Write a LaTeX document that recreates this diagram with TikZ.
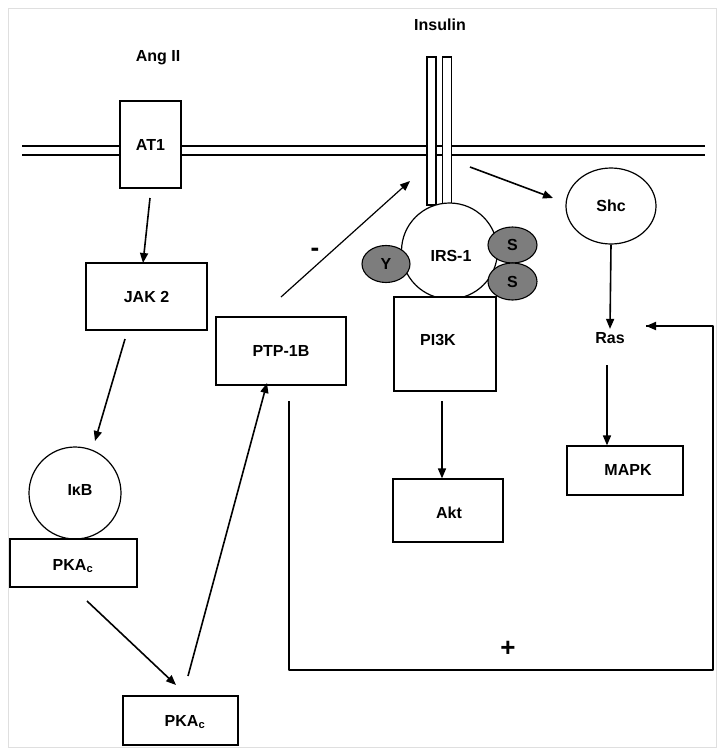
\documentclass[tikz,border=0pt]{standalone}
\usepackage{fontspec}
\setmainfont{Liberation Sans}
\usetikzlibrary{arrows.meta,shapes.geometric}
\begin{document}
\begin{tikzpicture}[x=1pt,y=-1pt,
  lbl/.style={font=\bfseries\fontsize{16}{18}\selectfont},
  box/.style={draw,line width=1.2pt,fill=white,inner sep=0pt,lbl},
  circ/.style={draw,line width=1.2pt,fill=white,circle,inner sep=0pt,lbl},
  phos/.style={draw,line width=1.1pt,fill=gray!80!black!85,ellipse,inner sep=0pt,lbl},
  arr/.style={line width=1.6pt,-{Triangle[length=10pt,width=8pt]}},
  fb/.style={line width=1.8pt}]
\useasboundingbox (0,0) rectangle (723,756);
\draw[gray!25,line width=0.8pt] (8,8) rectangle (716,747);
% membrane
\draw[line width=1.2pt] (22,146) -- (705,146) (22,155) -- (705,155);
% receptor bars
\node[box,minimum width=9pt,minimum height=148pt] (barL) at (431.5,131) {};
\node[box,minimum width=9pt,minimum height=148pt] (barR) at (447,131) {};
\node[lbl] (ins) at (440,25) {Insulin};
\node[lbl] (ang) at (158,58) {Ang II};
% left column
\node[box,minimum width=61pt,minimum height=87pt] (at1) at (150.5,144.5) {AT1};
\node[box,minimum width=121pt,minimum height=67pt] (jak) at (146.5,296.5) {JAK 2};
\node[circ,minimum size=92pt] (ikb) at (75,493) {};
\node[lbl] at (80,490) {I\symbol{"03BA}B};
\node[box,minimum width=127pt,minimum height=48pt] (pka1) at (73.5,563) {};
\node[lbl] at (73,566) {PKA$_{\mathbf{c}}$};
\node[box,minimum width=115pt,minimum height=49pt] (pka2) at (180.5,720.5) {};
\node[lbl] at (185,722) {PKA$_{\mathbf{c}}$};
\node[box,minimum width=130pt,minimum height=68pt] (ptp) at (281,351) {PTP-1B};
% center
\node[circ,minimum size=96pt] (irs) at (449.5,251) {};
\node[lbl] at (451,256) {IRS-1};
\node[phos,minimum width=48pt,minimum height=37pt] (y) at (386,264) {Y};
\node[phos,minimum width=49pt,minimum height=36pt] (s1) at (512.5,245) {S};
\node[phos,minimum width=49pt,minimum height=37pt] (s2) at (512.5,281.5) {S};
\node[box,minimum width=102pt,minimum height=94pt] (pi3k) at (445,344) {};
\node[lbl] at (438,340) {PI3K};
\node[box,minimum width=110pt,minimum height=63pt] (akt) at (448,510.5) {};
\node[lbl] at (449,513) {Akt};
% right
\node[draw,line width=1.2pt,ellipse,minimum width=90pt,minimum height=76pt,inner sep=0pt,lbl] (shc) at (611,206) {Shc};
\node[lbl] (ras) at (610,338) {Ras};
\node[box,minimum width=116pt,minimum height=49pt] (mapk) at (625,470.5) {};
\node[lbl] at (628,470) {MAPK};
\node[font=\bfseries\fontsize{26}{28}\selectfont] (minus) at (315,252) {-};
\node[font=\bfseries\fontsize{26}{28}\selectfont] (plus) at (508,649) {+};
% arrows
\coordinate (a1s) at (150,198); \coordinate (a1e) at (143,263);
\draw[arr] (a1s) -- (a1e);
\coordinate (a2s) at (125,339); \coordinate (a2e) at (95,441);
\draw[arr] (a2s) -- (a2e);
\coordinate (a3s) at (87,601); \coordinate (a3e) at (176,685);
\draw[arr] (a3s) -- (a3e);
\coordinate (a4s) at (188,676); \coordinate (a4e) at (267,383);
\draw[arr] (a4s) -- (a4e);
\coordinate (a5s) at (281,297); \coordinate (a5e) at (410,181);
\draw[arr,line width=1.2pt] (a5s) -- (a5e);
\coordinate (a6s) at (470,167); \coordinate (a6e) at (553,198);
\draw[arr] (a6s) -- (a6e);
\draw[arr] (shc.south) -- (ras.north);
\coordinate (a7s) at (607,365);
\draw[arr] (a7s) -- (mapk.north -| a7s);
\coordinate (a8s) at (442,401);
\draw[arr] (a8s) -- (akt.north -| a8s);
% feedback
\coordinate (f1) at (289,401); \coordinate (f2) at (289,670);
\coordinate (f3) at (713,670); \coordinate (f4) at (713,326);
\coordinate (f5) at (646,326);
\draw[fb,line join=round] (f1) -- (f2) -- (f3) -- (f4) -- (f5);
\draw[arr,line width=1.8pt] (f4) -- (f5);
\end{tikzpicture}
\end{document}
